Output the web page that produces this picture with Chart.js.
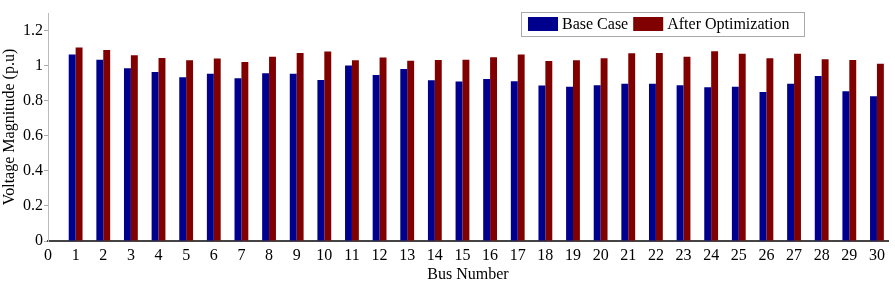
<!DOCTYPE html>
<html lang="en">
<head>
  <meta charset="UTF-8" />
  <title>Bus Voltage Magnitude</title>
  <script src="https://cdn.jsdelivr.net/npm/chart.js"></script>
  <style>
    body { margin: 0; background: #fff; }
    #wrap { width: 895px; height: 284px; }
  </style>
</head>
<body>
<div id="wrap"><canvas id="voltChart" width="895" height="284"></canvas></div>

<script>
// bus numbers on the x axis
const buses = [1,2,3,4,5,6,7,8,9,10,11,12,13,14,15,16,17,18,19,20,21,22,23,24,25,26,27,28,29,30];

// voltage magnitude (p.u)
const baseCase = [1.063,1.034,0.985,0.964,0.933,0.953,0.928,0.956,0.954,0.918,
                  1.000,0.947,0.981,0.916,0.909,0.924,0.911,0.886,0.880,0.888,
                  0.896,0.897,0.888,0.877,0.880,0.850,0.896,0.941,0.854,0.825];
const afterOpt = [1.103,1.089,1.059,1.044,1.030,1.040,1.021,1.050,1.072,1.080,
                  1.030,1.046,1.028,1.032,1.034,1.047,1.063,1.027,1.030,1.042,
                  1.070,1.072,1.050,1.082,1.067,1.042,1.068,1.036,1.032,1.010];

const seriesNames = ['Base Case', 'After Optimization'];
const seriesColors = ['#00008f', '#800000'];

const serif = '"Liberation Serif", "Times New Roman", serif';

// boxed legend drawn inside the plot, like the original figure
const boxLegend = {
  id: 'boxLegend',
  afterDraw(chart) {
    const ctx = chart.ctx;
    const x0 = 521, y0 = 12, w = 283, h = 24;
    ctx.save();
    ctx.fillStyle = '#fff';
    ctx.fillRect(x0, y0, w, h);
    ctx.strokeStyle = '#aaa';
    ctx.lineWidth = 1;
    ctx.strokeRect(x0 + 0.5, y0 + 0.5, w, h);
    ctx.font = '16px ' + serif;
    ctx.textBaseline = 'middle';
    let x = x0 + 7;
    chart.data.datasets.forEach(ds => {
      ctx.fillStyle = ds.backgroundColor;
      ctx.fillRect(x, y0 + 5, 30, 14);
      x += 34;
      ctx.fillStyle = '#000';
      ctx.fillText(ds.label, x, y0 + h / 2 + 1);
      x += ctx.measureText(ds.label).width + 5;
    });
    ctx.restore();
  }
};

const ctx = document.getElementById('voltChart').getContext('2d');
const chart = new Chart(ctx, {
  type: 'bar',
  data: {
    datasets: [
      {
        label: seriesNames[0],
        data: buses.map((b, i) => ({ x: b, y: baseCase[i] })),
        backgroundColor: seriesColors[0],
        borderWidth: 0,
        categoryPercentage: 0.5,
        barPercentage: 1.0
      },
      {
        label: seriesNames[1],
        data: buses.map((b, i) => ({ x: b, y: afterOpt[i] })),
        backgroundColor: seriesColors[1],
        borderWidth: 0,
        categoryPercentage: 0.5,
        barPercentage: 1.0
      }
    ]
  },
  options: {
    responsive: false,
    animation: false,
    layout: { padding: { top: 13, right: 7, left: 0, bottom: 0 } },
    scales: {
      x: {
        type: 'linear',
        min: 0,
        max: 30.4,
        offset: false,
        afterFit: s => { s.height = 43; },
        grid: { display: false },
        border: { display: true, color: '#444', width: 2 },
        ticks: {
          stepSize: 1,
          includeBounds: false,
          autoSkip: false,
          maxRotation: 0,
          padding: -3,
          color: '#000',
          font: { family: serif, size: 16 }
        },
        title: {
          display: true,
          text: 'Bus Number',
          color: '#000',
          padding: { top: 0, bottom: 0 },
          font: { family: serif, size: 16 }
        }
      },
      y: {
        min: 0,
        max: 1.3,
        afterFit: s => { s.width = 48; },
        grid: { drawOnChartArea: false, tickLength: 4, color: '#aaa' },
        border: { display: true, color: '#bbb', width: 1 },
        ticks: {
          stepSize: 0.2,
          includeBounds: false,
          padding: 1,
          color: '#000',
          font: { family: serif, size: 16 },
          callback: v => (Math.round(v * 10) / 10).toString()
        },
        title: {
          display: true,
          text: 'Voltage Magnitude (p.u)',
          color: '#000',
          padding: { top: 0, bottom: 0 },
          font: { family: serif, size: 16 }
        }
      }
    },
    plugins: {
      legend: { display: false },
      tooltip: { enabled: false }
    }
  },
  plugins: [boxLegend]
});
</script>
</body>
</html>
